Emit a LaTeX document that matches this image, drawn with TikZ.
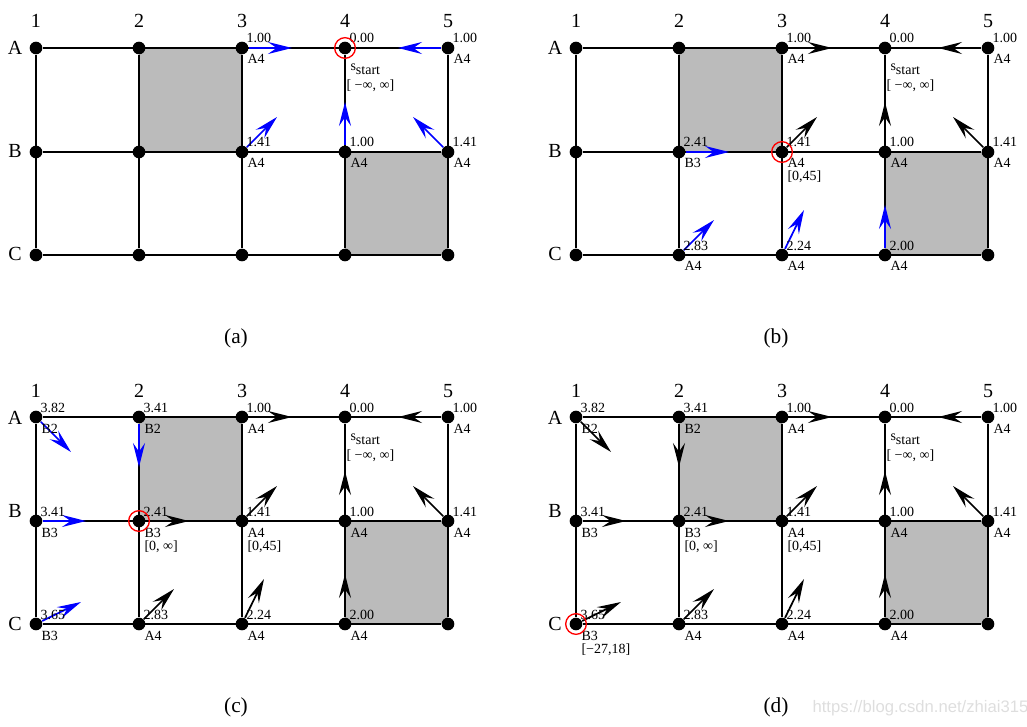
\documentclass[tikz,border=0pt]{standalone}
\usepackage{fontspec}
\setmainfont{Liberation Serif}
\newfontfamily\wmfont{Liberation Sans}
\usetikzlibrary{arrows.meta}

\tikzset{every picture/.style={line width=0.75pt}}
\tikzset{
  gridpt/.style={circle,fill=black,inner sep=0pt,minimum size=9.5pt},
  gridln/.style={line width=1pt},
  cell/.style={fill={rgb,255:red,187;green,187;blue,187}},
  curpt/.style={circle,draw=red,line width=1pt,inner sep=0pt,minimum size=15.5pt},
  grad/.style={line width=1.3pt,-{Stealth[length=18pt,width=9pt,inset=6.5pt]}},
  lbl/.style={anchor=base west,inner sep=0pt,font=\fontsize{10.5}{12}\selectfont},
  collbl/.style={anchor=base,inner sep=0pt,font=\fontsize{15}{18}\selectfont},
  caption/.style={inner sep=0pt,font=\fontsize{16}{19}\selectfont},
}

% one 5x3 grid with its obstacles and labels
\newcommand{\panelgrid}[2]{%
  %Shape: obstacle cells
  \fill[cell] (139,48) rectangle (242,152);
  \fill[cell] (345,152) rectangle (448,255);
  % grid points and column labels
  \foreach \c in {1,...,5}{
    \pgfmathsetmacro{\xc}{36+103*(\c-1)}
    \node[gridpt] (#1A\c) at (\xc,48) {};
    \node[gridpt] (#1B\c) at (\xc,152) {};
    \node[gridpt] (#1C\c) at (\xc,255) {};
    \node[collbl] (#1col\c) at (\xc,28) {\c};
  }
  % grid lines
  \foreach \r in {A,B,C} \draw[gridln] (#1\r1) -- (#1\r5);
  \foreach \c in {1,...,5} \draw[gridln] (#1A\c) -- (#1C\c);
  % row labels
  \node[collbl] (#1rowA) at (15,55) {A};
  \node[collbl] (#1rowB) at (15,#2) {B};
  \node[collbl] (#1rowC) at (15,261) {C};
}
% shifts are in pt, y counted downwards (yscale=-1)
\newcommand{\val}[3]{\node[lbl] (#1#2v) at ([xshift=3pt,yshift=-3.75pt]#1#2.center) {#3};}
\newcommand{\bp}[3]{\node[lbl] (#1#2b) at ([xshift=3.75pt,yshift=12pt]#1#2.center) {#3};}
\newcommand{\bounds}[3]{\node[lbl] (#1#2i) at ([xshift=3.75pt,yshift=21.75pt]#1#2.center) {#3};}
\newcommand{\startlbl}[1]{%
  \node[lbl] (#1A4b) at ([xshift=3.75pt,yshift=17.25pt]#1A4.center) {s\raisebox{-3pt}{start}};
  \node[lbl] (#1A4i) at ([xshift=0.75pt,yshift=31.5pt]#1A4.center) {[ −∞, ∞]};
}
\newcommand{\gradarrow}[5]{%
  \coordinate (#1#2g) at ([xshift=#3,yshift=-#4]#1#2.center);
  \draw[grad,#5] (#1#2) -- (#1#2g);
}

\begin{document}
\begin{tikzpicture}[x=0.75pt,y=0.75pt,yscale=-1,xscale=1]
\useasboundingbox (0,0) rectangle (1027,727);

%Panel (a)
\begin{scope}
\panelgrid{a}{158}
\gradarrow{a}{A3}{37.5pt}{0pt}{blue}
\gradarrow{a}{A5}{-37.5pt}{0pt}{blue}
\gradarrow{a}{B3}{26.25pt}{26.25pt}{blue}
\gradarrow{a}{B4}{0pt}{37.5pt}{blue}
\gradarrow{a}{B5}{-26.25pt}{26.25pt}{blue}
\val{a}{A3}{1.00}\bp{a}{A3}{A4}
\val{a}{A4}{0.00}\startlbl{a}
\val{a}{A5}{1.00}\bp{a}{A5}{A4}
\val{a}{B3}{1.41}\bp{a}{B3}{A4}
\val{a}{B4}{1.00}\bp{a}{B4}{A4}
\val{a}{B5}{1.41}\bp{a}{B5}{A4}
\node[curpt] (acur) at (aA4) {};
\node[caption] (capa) at (236,338) {(a)};
\end{scope}

%Panel (b)
\begin{scope}[shift={(540,0)}]
\panelgrid{b}{158}
\gradarrow{b}{A3}{37.5pt}{0pt}{black}
\gradarrow{b}{A5}{-37.5pt}{0pt}{black}
\gradarrow{b}{B3}{26.25pt}{26.25pt}{black}
\gradarrow{b}{B4}{0pt}{37.5pt}{black}
\gradarrow{b}{B5}{-26.25pt}{26.25pt}{black}
\gradarrow{b}{B2}{37.5pt}{0pt}{blue}
\gradarrow{b}{C2}{26.25pt}{26.25pt}{blue}
\gradarrow{b}{C3}{16.5pt}{33.75pt}{blue}
\gradarrow{b}{C4}{0pt}{37.5pt}{blue}
\val{b}{A3}{1.00}\bp{b}{A3}{A4}
\val{b}{A4}{0.00}\startlbl{b}
\val{b}{A5}{1.00}\bp{b}{A5}{A4}
\val{b}{B2}{2.41}\bp{b}{B2}{B3}
\val{b}{B3}{1.41}\bp{b}{B3}{A4}\bounds{b}{B3}{[0,45]}
\val{b}{B4}{1.00}\bp{b}{B4}{A4}
\val{b}{B5}{1.41}\bp{b}{B5}{A4}
\val{b}{C2}{2.83}\bp{b}{C2}{A4}
\val{b}{C3}{2.24}\bp{b}{C3}{A4}
\val{b}{C4}{2.00}\bp{b}{C4}{A4}
\node[curpt] (bcur) at (bB3) {};
\node[caption] (capb) at (236,338) {(b)};
\end{scope}

%Panel (c)
\begin{scope}[shift={(0,369)}]
\panelgrid{c}{148}
\gradarrow{c}{A3}{37.5pt}{0pt}{black}
\gradarrow{c}{A5}{-37.5pt}{0pt}{black}
\gradarrow{c}{B3}{26.25pt}{26.25pt}{black}
\gradarrow{c}{B4}{0pt}{37.5pt}{black}
\gradarrow{c}{B5}{-26.25pt}{26.25pt}{black}
\gradarrow{c}{B2}{37.5pt}{0pt}{black}
\gradarrow{c}{C2}{26.25pt}{26.25pt}{black}
\gradarrow{c}{C3}{16.5pt}{33.75pt}{black}
\gradarrow{c}{C4}{0pt}{37.5pt}{black}
\gradarrow{c}{A1}{26.25pt}{-26.25pt}{blue}
\gradarrow{c}{A2}{0pt}{-37.5pt}{blue}
\gradarrow{c}{B1}{37.5pt}{0pt}{blue}
\gradarrow{c}{C1}{33.75pt}{16.5pt}{blue}
\val{c}{A1}{3.82}\bp{c}{A1}{B2}
\val{c}{A2}{3.41}\bp{c}{A2}{B2}
\val{c}{A3}{1.00}\bp{c}{A3}{A4}
\val{c}{A4}{0.00}\startlbl{c}
\val{c}{A5}{1.00}\bp{c}{A5}{A4}
\val{c}{B1}{3.41}\bp{c}{B1}{B3}
\val{c}{B2}{2.41}\bp{c}{B2}{B3}\bounds{c}{B2}{[0, ∞]}
\val{c}{B3}{1.41}\bp{c}{B3}{A4}\bounds{c}{B3}{[0,45]}
\val{c}{B4}{1.00}\bp{c}{B4}{A4}
\val{c}{B5}{1.41}\bp{c}{B5}{A4}
\val{c}{C1}{3.65}\bp{c}{C1}{B3}
\val{c}{C2}{2.83}\bp{c}{C2}{A4}
\val{c}{C3}{2.24}\bp{c}{C3}{A4}
\val{c}{C4}{2.00}\bp{c}{C4}{A4}
\node[curpt] (ccur) at (cB2) {};
\node[caption] (capc) at (236,338) {(c)};
\end{scope}

%Panel (d)
\begin{scope}[shift={(540,369)}]
\panelgrid{d}{148}
\gradarrow{d}{A3}{37.5pt}{0pt}{black}
\gradarrow{d}{A5}{-37.5pt}{0pt}{black}
\gradarrow{d}{B3}{26.25pt}{26.25pt}{black}
\gradarrow{d}{B4}{0pt}{37.5pt}{black}
\gradarrow{d}{B5}{-26.25pt}{26.25pt}{black}
\gradarrow{d}{B2}{37.5pt}{0pt}{black}
\gradarrow{d}{C2}{26.25pt}{26.25pt}{black}
\gradarrow{d}{C3}{16.5pt}{33.75pt}{black}
\gradarrow{d}{C4}{0pt}{37.5pt}{black}
\gradarrow{d}{A1}{26.25pt}{-26.25pt}{black}
\gradarrow{d}{A2}{0pt}{-37.5pt}{black}
\gradarrow{d}{B1}{37.5pt}{0pt}{black}
\gradarrow{d}{C1}{33.75pt}{16.5pt}{black}
\val{d}{A1}{3.82}\bp{d}{A1}{B2}
\val{d}{A2}{3.41}\bp{d}{A2}{B2}
\val{d}{A3}{1.00}\bp{d}{A3}{A4}
\val{d}{A4}{0.00}\startlbl{d}
\val{d}{A5}{1.00}\bp{d}{A5}{A4}
\val{d}{B1}{3.41}\bp{d}{B1}{B3}
\val{d}{B2}{2.41}\bp{d}{B2}{B3}\bounds{d}{B2}{[0, ∞]}
\val{d}{B3}{1.41}\bp{d}{B3}{A4}\bounds{d}{B3}{[0,45]}
\val{d}{B4}{1.00}\bp{d}{B4}{A4}
\val{d}{B5}{1.41}\bp{d}{B5}{A4}
\val{d}{C1}{3.65}\bp{d}{C1}{B3}\bounds{d}{C1}{[−27,18]}
\val{d}{C2}{2.83}\bp{d}{C2}{A4}
\val{d}{C3}{2.24}\bp{d}{C3}{A4}
\val{d}{C4}{2.00}\bp{d}{C4}{A4}
\node[curpt] (dcur) at (dC1) {};
\node[caption] (capd) at (236,338) {(d)};
\end{scope}

% Text Node
\node[anchor=west,inner sep=0pt,text=black!13,font=\wmfont\fontsize{12.5}{15}\selectfont] (wmark) at (812,708) {https://blog.csdn.net/zhiai315};

\end{tikzpicture}
\end{document}
